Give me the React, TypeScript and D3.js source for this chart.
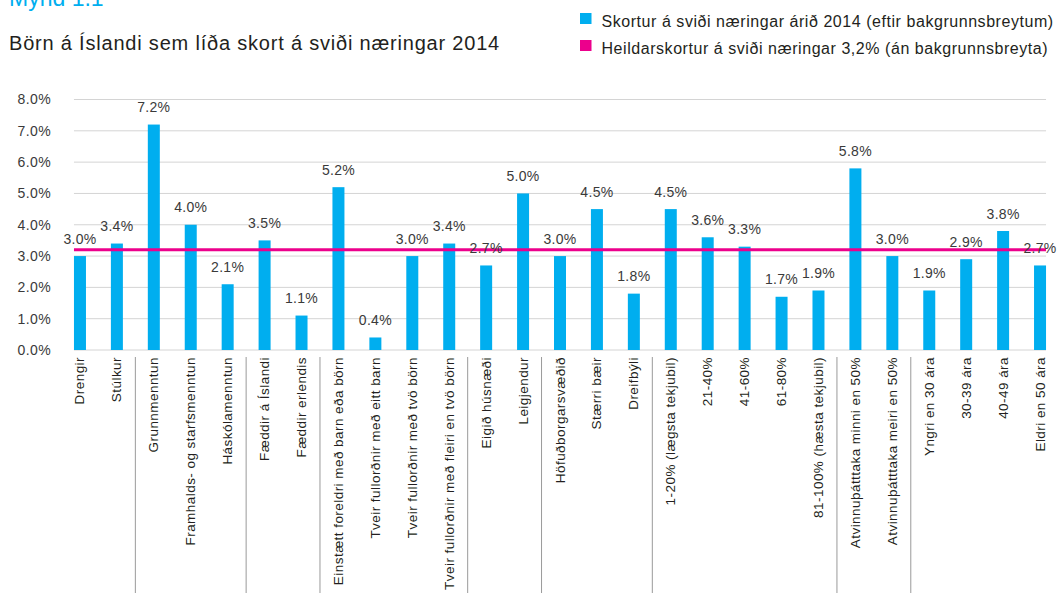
import React from 'react';
import * as d3 from 'd3';

// Categories along the x axis
const categories = [
  'Drengir',
  'Stúlkur',
  'Grunnmenntun',
  'Framhalds- og starfsmenntun',
  'Háskólamenntun',
  'Fæddir á Íslandi',
  'Fæddir erlendis',
  'Einstætt foreldri með barn eða börn',
  'Tveir fullorðnir með eitt barn',
  'Tveir fullorðnir með tvö börn',
  'Tveir fullorðnir með fleiri en tvö börn',
  'Eigið húsnæði',
  'Leigjendur',
  'Höfuðborgarsvæðið',
  'Stærri bæir',
  'Dreifbýli',
  '1-20% (lægsta tekjubil)',
  '21-40%',
  '41-60%',
  '61-80%',
  '81-100% (hæsta tekjubil)',
  'Atvinnuþátttaka minni en 50%',
  'Atvinnuþátttaka meiri en 50%',
  'Yngri en 30 ára',
  '30-39 ára',
  '40-49 ára',
  'Eldri en 50 ára',
];

// Skortur á sviði næringar (%)
const values = [3.0, 3.4, 7.2, 4.0, 2.1, 3.5, 1.1, 5.2, 0.4, 3.0, 3.4, 2.7, 5.0, 3.0, 4.5, 1.8, 4.5, 3.6, 3.3, 1.7, 1.9, 5.8, 3.0, 1.9, 2.9, 3.8, 2.7];

// index of the last category in each group (separator after it)
const groupEnds = [1, 4, 6, 10, 12, 15, 20, 22];

const yTicks = [0, 1, 2, 3, 4, 5, 6, 7, 8];
const overall = 3.2;

const legendItems = [
  { label: 'Skortur á sviði næringar árið 2014 (eftir bakgrunnsbreytum)', color: '#00aeef' },
  { label: 'Heildarskortur á sviði næringar 3,2% (án bakgrunnsbreyta)', color: '#ec008c' },
];

const W = 1061;
const H = 593;
const font = '"Liberation Sans", Arial, sans-serif';
const textColor = '#3a3a3a';

export default function App() {
  const x = d3.scaleBand<string>().domain(categories).range([61.5, 1058.5]).padding(0);
  const y = d3.scaleLinear().domain([0, 8]).range([350, 99.5]);
  const barW = 12;
  const cx = (c: string) => (x(c) as number) + x.bandwidth() / 2;
  const left = cx(categories[0]) - barW / 2;
  const right = cx(categories[categories.length - 1]) + barW / 2;
  const fmt = (v: number) => v.toFixed(1) + '%';

  return (
    <svg width={W} height={H} style={{ position: 'absolute', left: 0, top: 0, background: '#fff' }} fontFamily={font}>
      <text x={9} y={6} fontSize={23} fill="#00aeef">Mynd 1.1</text>
      <text x={9} y={49.5} fontSize={20} fill="#231f20" letterSpacing={0.8}>
        Börn á Íslandi sem líða skort á sviði næringar 2014
      </text>

      {legendItems.map((d, i) => (
        <g key={d.label} transform={`translate(580,${13 + i * 27})`}>
          <rect width={11.5} height={11} fill={d.color} />
          <text x={21.5} y={13.5} fontSize={16} fill="#231f20" letterSpacing={0.55}>{d.label}</text>
        </g>
      ))}

      {yTicks.map((t) => (
        <g key={t}>
          <line x1={left} x2={right} y1={y(t)} y2={y(t)} stroke="#d4d4d4" strokeWidth={1} />
          <text x={51} y={y(t)} dy="0.35em" textAnchor="end" fontSize={14} letterSpacing={0.4} fill={textColor}>
            {fmt(t)}
          </text>
        </g>
      ))}

      {categories.map((c, i) => (
        <rect key={c} x={cx(c) - barW / 2} y={y(values[i])} width={barW} height={y(0) - y(values[i])} fill="#00aeef" />
      ))}

      <line x1={left} x2={right} y1={y(overall)} y2={y(overall)} stroke="#ec008c" strokeWidth={3} />

      {categories.map((c, i) => (
        <text key={c} x={cx(c)} y={y(values[i]) - 12.5} textAnchor="middle" fontSize={14} letterSpacing={0.3} fill={textColor}>
          {fmt(values[i])}
        </text>
      ))}

      {groupEnds.map((gi) => {
        const xs = (x(categories[gi]) as number) + x.bandwidth();
        return <line key={gi} x1={xs} x2={xs} y1={357} y2={H} stroke="#9a9a9a" strokeWidth={1} />;
      })}

      {categories.map((c) => (
        <text
          key={c}
          transform={`translate(${cx(c) + 4.5},357) rotate(-90)`}
          textAnchor="end"
          fontSize={13.5}
          letterSpacing={0.45}
          fill="#231f20"
        >
          {c}
        </text>
      ))}
    </svg>
  );
}
